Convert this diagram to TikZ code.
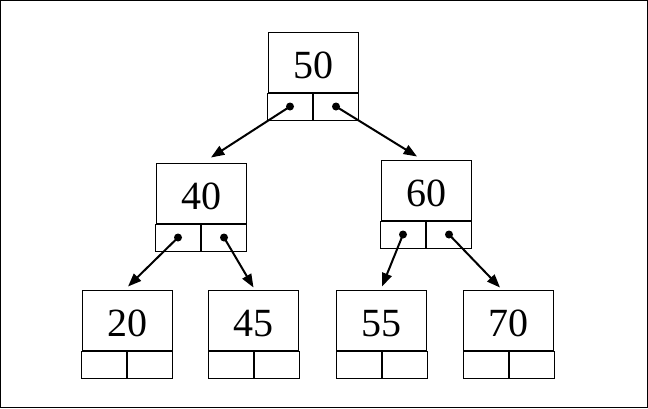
\documentclass[tikz,border=0pt]{standalone}
\usepackage{fontspec}
\setmainfont{Liberation Serif}
\usetikzlibrary{arrows.meta,calc}
\begin{document}
\begin{tikzpicture}[x=0.75pt,y=-0.75pt,
  valbox/.style={draw,line width=0.75pt,minimum width=67.5pt,minimum height=45pt,inner sep=0pt,
    text height=24.5pt,text depth=0pt,font=\fontsize{30}{32}\selectfont},
  cellbox/.style={draw,line width=0.75pt,minimum width=33.75pt,minimum height=20.25pt,inner sep=0pt},
  dot/.style={circle,fill=black,inner sep=0pt,minimum size=6pt},
  arr/.style={line width=1.5pt,-{Triangle[length=10pt,width=7.5pt]}},
  frame/.style={draw,line width=0.75pt}]
\useasboundingbox (0,0) rectangle (648,408);
\draw[frame] (0.5,0.5) rectangle (647.5,407.5);
% tree nodes: value box + two pointer cells
\foreach \n/\x/\y in {50/313/62, 40/201/193, 60/426/190, 20/127/320, 45/253.5/320, 55/381.5/320, 70/508.5/320}{
  \node[valbox] (n\n) at (\x,\y) {\n};
  \node[cellbox,anchor=north east] (n\n L) at (n\n.south) {};
  \node[cellbox,anchor=north west] (n\n R) at (n\n.south) {};
}
% pointer dots
\foreach \n in {50,40,60}{
  \node[dot] (d\n L) at (n\n L.center) {};
  \node[dot] (d\n R) at (n\n R.center) {};
}
% arrow ends just above the child boxes
\coordinate (t40) at ($(n40.north)+(10,-5)$);
\coordinate (t60) at ($(n60.north)+(-9,-3)$);
\coordinate (t20) at ($(n20.north)+(1,-3)$);
\coordinate (t45) at ($(n45.north)+(0,-2)$);
\coordinate (t55) at ($(n55.north)+(0.5,-3)$);
\coordinate (t70) at ($(n70.north)+(-8.5,-2)$);
\draw[arr] (d50L.center) -- (t40);
\draw[arr] (d50R.center) -- (t60);
\draw[arr] (d40L.center) -- (t20);
\draw[arr] (d40R.center) -- (t45);
\draw[arr] (d60L.center) -- (t55);
\draw[arr] (d60R.center) -- (t70);
\end{tikzpicture}
\end{document}
